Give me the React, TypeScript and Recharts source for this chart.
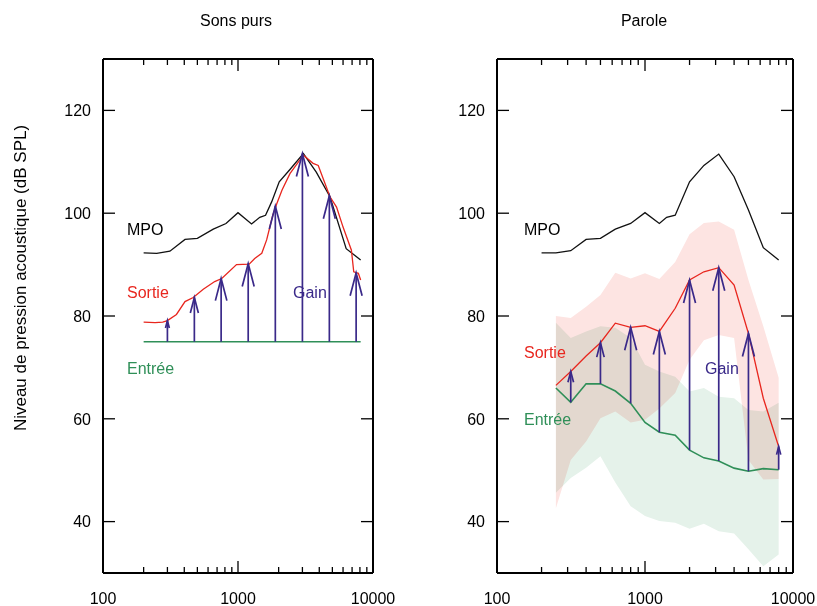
import { ComposedChart, Line, Area, XAxis, YAxis } from 'recharts'

const FONT = '"Liberation Sans", Arial, Helvetica, sans-serif'
const RED = '#e8261e'
const GREEN = '#2f8f58'
const PURPLE = '#3a2989'
const PINK_BAND = '#fde4e2'
const GREEN_BAND = '#e5f2ea'

const Y_MIN = 30
const Y_MAX = 130
const PLOT_TOP = 59
const PLOT_BOTTOM = 573
const PX_PER_DB = (PLOT_BOTTOM - PLOT_TOP) / (Y_MAX - Y_MIN)

const xTicks = [
  100, 200, 300, 400, 500, 600, 700, 800, 900, 1000, 2000, 3000, 4000, 5000,
  6000, 7000, 8000, 9000, 10000,
]
const xLabels = [100, 1000, 10000]
const yTicks = [40, 60, 80, 100, 120]

// Sons purs
const mpoLeftF = [200, 250, 313, 405, 500, 656, 815, 1000, 1260, 1450, 1600, 1775, 2020, 2425, 3050, 3800, 4800, 6330, 8100]
const mpoLeftV = [92.3, 92.2, 92.6, 94.9, 95.1, 96.9, 98.0, 100.1, 97.9, 99.2, 99.6, 102.2, 106.1, 108.5, 111.6, 108.0, 103.2, 93.1, 90.9]
const sortieLeftF = [200, 243, 277, 300, 350, 405, 466, 553, 672, 758, 975, 1210, 1330, 1500, 1630, 1810, 1940, 2120, 2425, 3050, 3600, 3930, 4800, 5370, 6000, 6920, 7200, 7790, 8100]
const sortieLeftV = [78.8, 78.7, 78.8, 79.1, 80.3, 82.8, 83.6, 85.2, 86.7, 87.3, 90.0, 90.1, 91.2, 92.2, 94.8, 99.6, 101.9, 104.5, 107.7, 111.3, 109.7, 109.3, 103.2, 101.2, 97.3, 92.8, 88.6, 88.3, 87.0]
const entreeLeftF = [200, 8100]
const entreeLeftLevel = 75
const gainLeftF = [300, 475, 750, 1190, 1890, 3000, 4750, 7500]
const gainLeftV = [79.1, 83.6, 87.3, 90.2, 101.4, 111.6, 103.4, 88.4]

// Parole
const mpoRightF = [200, 250, 315, 400, 500, 630, 800, 1000, 1250, 1400, 1600, 2000, 2500, 3150, 4000, 5000, 6300, 8000]
const mpoRightV = [92.3, 92.3, 92.7, 94.9, 95.1, 96.9, 98.0, 100.1, 98.0, 99.2, 99.6, 106.1, 109.3, 111.5, 107.1, 100.6, 93.3, 90.9]
const paroleF = [250, 315, 400, 500, 630, 800, 1000, 1250, 1600, 2000, 2500, 3150, 4000, 5000, 6300, 8000]
const sortieP = [66.5, 69.2, 72.2, 74.8, 78.6, 77.8, 78.1, 77.0, 81.5, 87.0, 88.6, 89.4, 86.0, 76.6, 64.0, 54.6]
const entreeP = [66.0, 63.2, 66.8, 66.8, 65.4, 63.0, 59.3, 57.4, 56.8, 53.9, 52.4, 51.8, 50.4, 49.8, 50.3, 50.1]
const sortieHaut = [80.0, 79.6, 81.8, 84.1, 88.4, 87.3, 88.3, 87.2, 90.5, 95.9, 98.1, 98.4, 96.8, 87.0, 78.0, 68.0]
const sortieBas = [42.6, 52.0, 55.6, 60.1, 61.4, 59.3, 59.8, 62.0, 65.0, 71.5, 75.3, 76.3, 75.7, 52.0, 48.2, 48.3]
const entreeHaut = [78.7, 75.7, 77.0, 78.0, 77.7, 75.7, 70.5, 69.2, 68.2, 65.3, 66.0, 64.3, 64.0, 61.7, 61.4, 63.1]
const entreeBas = [45.6, 48.5, 50.5, 52.7, 47.6, 43.0, 41.1, 40.1, 39.8, 38.6, 39.6, 38.1, 37.7, 34.6, 31.3, 33.6]
// gain arrows on every other 1/3 octave band
const gainRightIdx = [1, 3, 5, 7, 9, 11, 13, 15]

const pts = (fs: number[], vs: number[]) => fs.map((f, i) => ({ f, v: vs[i] }))

const mpoLeft = pts(mpoLeftF, mpoLeftV)
const sortieLeft = pts(sortieLeftF, sortieLeftV)
const entreeLeft = entreeLeftF.map((f) => ({ f, v: entreeLeftLevel }))
const arrowsLeft = gainLeftF.map((f, i) => [
  { f, v: entreeLeftLevel },
  { f, v: gainLeftV[i], gain: gainLeftV[i] - entreeLeftLevel },
])

const mpoRight = pts(mpoRightF, mpoRightV)
const paroleData = paroleF.map((f, i) => ({
  f,
  sortie: sortieP[i],
  entree: entreeP[i],
  sBand: [sortieBas[i], sortieHaut[i]],
  eBand: [entreeBas[i], entreeHaut[i]],
}))
const arrowsRight = gainRightIdx.map((i) => [
  { f: paroleF[i], v: entreeP[i] },
  { f: paroleF[i], v: sortieP[i], gain: sortieP[i] - entreeP[i] },
])

const BottomTick = (p: any) => {
  const v = p.payload.value
  const major = xLabels.includes(v)
  return (
    <g>
      <line x1={p.x} x2={p.x} y1={p.y} y2={p.y - (major ? 12 : 6)} stroke="#000" strokeWidth={1.3} />
      {major && (
        <text x={p.x} y={p.y + 31} textAnchor="middle" fontSize={16} fontFamily={FONT} fill="#000">
          {v}
        </text>
      )}
    </g>
  )
}

const TopTick = (p: any) => {
  const major = xLabels.includes(p.payload.value)
  return <line x1={p.x} x2={p.x} y1={p.y} y2={p.y + (major ? 12 : 6)} stroke="#000" strokeWidth={1.3} />
}

const LeftTick = (p: any) => (
  <g>
    <line x1={p.x} x2={p.x + 12} y1={p.y} y2={p.y} stroke="#000" strokeWidth={1.3} />
    <text x={p.x - 12} y={p.y} dy="0.36em" textAnchor="end" fontSize={16} fontFamily={FONT} fill="#000">
      {p.payload.value}
    </text>
  </g>
)

const RightTick = (p: any) => (
  <line x1={p.x} x2={p.x - 12} y1={p.y} y2={p.y} stroke="#000" strokeWidth={1.3} />
)

const ArrowHead = (p: any) => {
  if (p.index !== 1 || p.cx == null || p.cy == null) return <g key={`a${p.index}`} />
  const len = Math.min(23, 0.35 * p.payload.gain * PX_PER_DB)
  const half = len * 0.26
  return (
    <path
      key={`a${p.index}`}
      d={`M${p.cx - half},${p.cy + len} L${p.cx},${p.cy} L${p.cx + half},${p.cy + len}`}
      fill="none"
      stroke={PURPLE}
      strokeWidth={1.7}
    />
  )
}

const axisLine = { stroke: '#000', strokeWidth: 2 }

// the top and right axes only carry the frame and inward ticks (1px boxes, so they render)
const frame = () => [
  <XAxis
    key="xb"
    dataKey="f"
    type="number"
    scale="log"
    domain={[100, 10000]}
    allowDataOverflow
    ticks={xTicks}
    interval={0}
    tickSize={0}
    tickMargin={0}
    height={30}
    axisLine={axisLine}
    tickLine={false}
    tick={BottomTick}
  />,
  <XAxis
    key="xt"
    xAxisId="t"
    orientation="top"
    dataKey="f"
    type="number"
    scale="log"
    domain={[100, 10000]}
    allowDataOverflow
    ticks={xTicks}
    interval={0}
    tickSize={0}
    tickMargin={0}
    height={1}
    axisLine={axisLine}
    tickLine={false}
    tick={TopTick}
  />,
  <YAxis
    key="yl"
    type="number"
    domain={[Y_MIN, Y_MAX]}
    allowDataOverflow
    ticks={yTicks}
    interval={0}
    tickSize={0}
    tickMargin={0}
    width={60}
    axisLine={axisLine}
    tickLine={false}
    tick={LeftTick}
  />,
  <YAxis
    key="yr"
    yAxisId="r"
    orientation="right"
    type="number"
    domain={[Y_MIN, Y_MAX]}
    allowDataOverflow
    ticks={yTicks}
    interval={0}
    tickSize={0}
    tickMargin={0}
    width={1}
    axisLine={axisLine}
    tickLine={false}
    tick={RightTick}
  />,
]

const arrowLines = (arrows: any[]) =>
  arrows.map((d, i) => (
    <Line
      key={`g${i}`}
      data={d}
      dataKey="v"
      type="linear"
      stroke={PURPLE}
      strokeWidth={1.7}
      dot={ArrowHead}
      activeDot={false}
      isAnimationActive={false}
    />
  ))

function SonsPurs() {
  return (
    <ComposedChart width={400} height={606} margin={{ top: PLOT_TOP - 1, right: 26, bottom: 3, left: 43 }}>
      {frame()}
      <Line data={mpoLeft} dataKey="v" type="linear" stroke="#111" strokeWidth={1.3} dot={false} activeDot={false} isAnimationActive={false} />
      <Line data={sortieLeft} dataKey="v" type="linear" stroke={RED} strokeWidth={1.3} dot={false} activeDot={false} isAnimationActive={false} />
      <Line data={entreeLeft} dataKey="v" type="linear" stroke={GREEN} strokeWidth={1.6} dot={false} activeDot={false} isAnimationActive={false} />
      {arrowLines(arrowsLeft)}
    </ComposedChart>
  )
}

function Parole() {
  return (
    <ComposedChart width={417} height={606} data={paroleData} margin={{ top: PLOT_TOP - 1, right: 23, bottom: 3, left: 37 }}>
      {frame()}
      <Area dataKey="sBand" type="linear" stroke="none" fill={PINK_BAND} fillOpacity={1} activeDot={false} isAnimationActive={false} />
      <Area dataKey="eBand" type="linear" stroke="none" fill={GREEN_BAND} fillOpacity={1} activeDot={false} isAnimationActive={false} />
      <Line data={mpoRight} dataKey="v" type="linear" stroke="#111" strokeWidth={1.3} dot={false} activeDot={false} isAnimationActive={false} />
      <Line dataKey="sortie" type="linear" stroke={RED} strokeWidth={1.3} dot={false} activeDot={false} isAnimationActive={false} />
      <Line dataKey="entree" type="linear" stroke={GREEN} strokeWidth={1.6} dot={false} activeDot={false} isAnimationActive={false} />
      {arrowLines(arrowsRight)}
    </ComposedChart>
  )
}

const label = (x: number, y: number, text: string, color: string) => (
  <text x={x} y={y} fontSize={16} fontFamily={FONT} fill={color}>
    {text}
  </text>
)

export default function App() {
  return (
    <div style={{ position: 'absolute', left: 0, top: 0, width: 817, height: 606, background: '#fff' }}>
      <style>{'.recharts-area, .recharts-area path { mix-blend-mode: multiply; }'}</style>
      <div style={{ position: 'absolute', left: 0, top: 0 }}>
        <SonsPurs />
      </div>
      <div style={{ position: 'absolute', left: 400, top: 0 }}>
        <Parole />
      </div>
      <svg width={817} height={606} style={{ position: 'absolute', left: 0, top: 0, pointerEvents: 'none' }}>
        <text x={236} y={26} textAnchor="middle" fontSize={16} fontFamily={FONT}>Sons purs</text>
        <text x={644} y={26} textAnchor="middle" fontSize={16} fontFamily={FONT}>Parole</text>
        <text
          transform="translate(26,278) rotate(-90)"
          textAnchor="middle"
          fontSize={17}
          fontFamily={FONT}
        >
          Niveau de pression acoustique (dB SPL)
        </text>
        {label(127, 235, 'MPO', '#000')}
        {label(127, 298, 'Sortie', RED)}
        {label(293, 298, 'Gain', PURPLE)}
        {label(127, 374, 'Entrée', GREEN)}
        {label(524, 235, 'MPO', '#000')}
        {label(524, 358, 'Sortie', RED)}
        {label(705, 374, 'Gain', PURPLE)}
        {label(524, 425, 'Entrée', GREEN)}
      </svg>
    </div>
  )
}
